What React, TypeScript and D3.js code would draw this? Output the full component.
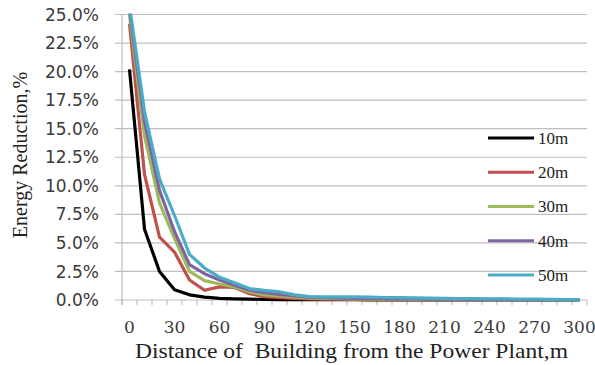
import * as d3 from "d3"

// distances along the x axis (m)
const distances = d3.range(0, 301, 10)
const yTicks = [0, 2.5, 5, 7.5, 10, 12.5, 15, 17.5, 20, 22.5, 25]
const xLabelEvery = 3

// energy reduction (%) per building height
const s10 = [20.2, 6.2, 2.5, 0.9, 0.45, 0.25, 0.15, 0.1, 0.07, 0.05, 0.04, 0.03, 0.03, 0.02, 0.02, 0.02, 0.01, 0.01, 0.01, 0.01, 0.01, 0.01, 0.01, 0.01, 0.01, 0.01, 0.01, 0.01, 0.01, 0.01, 0.01]
const s20 = [24.2, 11.0, 5.5, 4.2, 1.75, 0.85, 1.15, 1.1, 0.55, 0.3, 0.2, 0.15, 0.1, 0.08, 0.07, 0.06, 0.05, 0.05, 0.04, 0.04, 0.03, 0.03, 0.03, 0.03, 0.02, 0.02, 0.02, 0.02, 0.02, 0.02, 0.02]
const s30 = [25.0, 14.4, 8.5, 5.4, 2.5, 1.7, 1.4, 1.15, 0.7, 0.45, 0.35, 0.25, 0.18, 0.15, 0.12, 0.1, 0.09, 0.08, 0.07, 0.06, 0.05, 0.05, 0.04, 0.04, 0.04, 0.03, 0.03, 0.03, 0.03, 0.02, 0.02]
const s40 = [25.4, 15.6, 9.6, 6.0, 3.1, 2.3, 1.75, 1.3, 0.85, 0.65, 0.5, 0.35, 0.25, 0.2, 0.17, 0.15, 0.13, 0.12, 0.1, 0.09, 0.08, 0.07, 0.07, 0.06, 0.05, 0.05, 0.04, 0.04, 0.03, 0.03, 0.02]
const s50 = [25.8, 16.5, 10.6, 7.4, 4.0, 2.8, 2.0, 1.5, 1.0, 0.85, 0.72, 0.45, 0.3, 0.28, 0.28, 0.28, 0.25, 0.22, 0.2, 0.18, 0.16, 0.15, 0.13, 0.12, 0.1, 0.09, 0.08, 0.07, 0.05, 0.04, 0.03]

const seriesNames = ["10m", "20m", "30m", "40m", "50m"]
const seriesColors = ["#000000", "#c0504d", "#9bbb59", "#8064a2", "#4bacc6"]
const seriesValues = [s10, s20, s30, s40, s50]

export default function App() {
  const width = 595
  const height = 365
  const left = 122
  const right = 587
  const top = 14.5
  const bottom = 300

  const x = d3.scaleBand<number>().domain(distances).range([left, right]).padding(0)
  const y = d3.scaleLinear().domain([0, 25]).range([bottom, top])
  const cx = (d: number) => (x(d) || 0) + x.bandwidth() / 2

  const line = d3
    .line<number>()
    .x((_, i) => cx(distances[i]))
    .y((v) => y(v))

  const legendY = d3.scalePoint<string>().domain(seriesNames).range([138, 275])

  return (
    <svg
      width={width}
      height={height}
      style={{ position: "absolute", left: 0, top: 0, background: "#fff" }}
    >
      <defs>
        <clipPath id="plot">
          <rect x={left} y={top - 1} width={right - left} height={bottom - top + 4} />
        </clipPath>
      </defs>

      {/* grid + y labels */}
      {yTicks.map((t) => (
        <g key={t}>
          <line x1={left - 7} x2={right} y1={y(t)} y2={y(t)} stroke="#bfbfbf" strokeWidth={1.2} />
          <text
            x={99}
            y={y(t)}
            dy="0.36em"
            textAnchor="end"
            fontFamily="DejaVu Sans"
            fontSize={17}
            fill="#3a3a3a"
          >
            {t.toFixed(1)}%
          </text>
        </g>
      ))}

      {/* axes */}
      <line x1={left} x2={left} y1={top} y2={bottom + 5} stroke="#bfbfbf" strokeWidth={1.2} />
      {distances.concat([310]).map((d, i) => {
        const xx = left + i * x.bandwidth()
        return <line key={d} x1={xx} x2={xx} y1={bottom} y2={bottom + 5} stroke="#bfbfbf" strokeWidth={1.2} />
      })}
      {distances
        .filter((_, i) => i % xLabelEvery === 0)
        .map((d) => (
          <text
            key={d}
            x={cx(d)}
            y={333}
            textAnchor="middle"
            fontFamily="DejaVu Serif"
            fontSize={17}
            fill="#3a3a3a"
          >
            {d}
          </text>
        ))}

      {/* series */}
      <g clipPath="url(#plot)">
        {seriesValues.map((vals, k) => (
          <path
            key={seriesNames[k]}
            d={line(vals) || ""}
            fill="none"
            stroke={seriesColors[k]}
            strokeWidth={3.2}
            strokeLinejoin="round"
          />
        ))}
      </g>

      {/* legend */}
      {seriesNames.map((n, k) => (
        <g key={n}>
          <line
            x1={488}
            x2={534}
            y1={legendY(n)}
            y2={legendY(n)}
            stroke={seriesColors[k]}
            strokeWidth={3}
          />
          <text
            x={538}
            y={legendY(n)}
            dy="0.35em"
            fontFamily="Liberation Serif"
            fontSize={17}
            fill="#222"
          >
            {n}
          </text>
        </g>
      ))}

      {/* axis titles */}
      <text
        x={135}
        y={358}
        textLength={433}
        lengthAdjust="spacingAndGlyphs"
        fontFamily="Liberation Serif"
        fontSize={21}
        fill="#222"
        style={{ whiteSpace: "pre" }}
      >
        {"Distance of  Building from the Power Plant,m"}
      </text>
      <text
        transform="translate(27,155) rotate(-90)"
        textAnchor="middle"
        fontFamily="Liberation Serif"
        fontSize={20}
        fill="#222"
      >
        Energy Reduction,%
      </text>
    </svg>
  )
}
